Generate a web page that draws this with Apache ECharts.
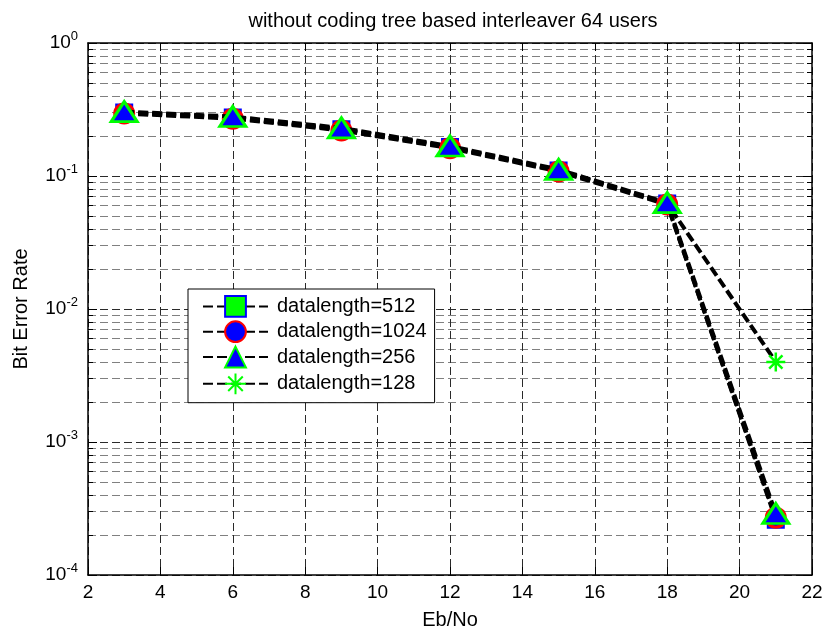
<!DOCTYPE html>
<html>
<head>
<meta charset="utf-8">
<script src="https://cdn.jsdelivr.net/npm/echarts@6/dist/echarts.min.js"></script>
<style>
  html, body { margin: 0; padding: 0; background: #fff; }
  #chart { width: 825px; height: 630px; }
</style>
</head>
<body>
<div id="chart"></div>
<script>
var ebno = [3, 6, 9, 12, 15, 18, 21];
var ber512 = [0.300, 0.275, 0.225, 0.165, 0.110, 0.062, 0.00026];
var ber1024 = [0.295, 0.270, 0.220, 0.162, 0.108, 0.061, 0.00027];
var ber256 = [0.305, 0.280, 0.230, 0.168, 0.112, 0.063, 0.00029];
var ber128 = [0.300, 0.275, 0.225, 0.165, 0.110, 0.062, 0.0040];
var xTicks = [2, 4, 6, 8, 10, 12, 14, 16, 18, 20, 22];

var font = 'Liberation Sans, Arial, sans-serif';
var chart = echarts.init(document.getElementById('chart'));

function pairs(ys) {
  return ebno.map(function (x, i) { return [x, ys[i]]; });
}

// dashed black curve, same for all four series
var lineDash = { color: '#000', width: 4, type: [10, 4] };
var starPath = 'path://M0,5L10,5M5,0L5,10M1.5,1.5L8.5,8.5M8.5,1.5L1.5,8.5';

function yLabel(v) {
  var e = Math.round(Math.log10(v));
  return '{b|10}{s|' + e + '}';
}

var yRich = {
  b: { fontSize: 19, fontFamily: font, color: '#000' },
  s: { fontSize: 13, fontFamily: font, color: '#000', padding: [0, 0, 14, 0] }
};

var tickStyle = { color: '#000', width: 1 };

var option = {
  animation: false,
  backgroundColor: '#fff',
  title: {
    text: 'without coding tree based interleaver 64 users',
    left: 448,
    top: 6,
    textAlign: 'center',
    textStyle: { fontSize: 20, fontWeight: 'normal', color: '#000', fontFamily: font }
  },
  grid: { left: 88, right: 13, top: 43, bottom: 55, outerBoundsMode: 'none', containLabel: false },
  legend: {
    left: 188,
    top: 289,
    orient: 'vertical',
    backgroundColor: '#fff',
    borderColor: '#000',
    borderWidth: 1,
    borderRadius: 0,
    padding: [6, 8, 6, 14],
    itemGap: 2.5,
    itemWidth: 65,
    itemHeight: 26,
    textStyle: { fontSize: 20, fontFamily: font, color: '#000', padding: [0, 0, 0, 4] },
    data: ['datalength=512', 'datalength=1024', 'datalength=256', 'datalength=128']
  },
  xAxis: [{
    type: 'value',
    min: 2, max: 22, interval: 2,
    name: 'Eb/No',
    nameLocation: 'middle',
    nameGap: 35,
    nameTextStyle: { fontSize: 20, fontFamily: font, color: '#000' },
    axisLine: { lineStyle: { color: '#000', width: 1.5 } },
    axisTick: { inside: true, length: 8, lineStyle: tickStyle },
    axisLabel: { fontSize: 19, fontFamily: font, color: '#000', margin: 8,
      formatter: function (v) { return xTicks.indexOf(v) >= 0 ? String(v) : ''; } },
    splitLine: { show: true, lineStyle: { color: '#2a2a2a', type: [8, 4], width: 1 } }
  }, {
    type: 'value',
    position: 'top',
    min: 2, max: 22, interval: 2,
    axisLine: { show: true, lineStyle: { color: '#000', width: 1.5 } },
    axisTick: { inside: true, length: 8, lineStyle: tickStyle },
    axisLabel: { show: false },
    splitLine: { show: false }
  }],
  yAxis: [{
    type: 'log',
    logBase: 10,
    min: 1e-4, max: 1,
    name: 'Bit Error Rate',
    nameLocation: 'middle',
    nameGap: 57,
    nameTextStyle: { fontSize: 20, fontFamily: font, color: '#000' },
    axisLine: { show: true, lineStyle: { color: '#000', width: 1.5 } },
    axisTick: { inside: true, length: 9, lineStyle: tickStyle },
    minorTick: { show: true, splitNumber: 9, length: 5, lineStyle: tickStyle },
    axisLabel: { formatter: yLabel, rich: yRich, margin: 10 },
    splitLine: { show: true, lineStyle: { color: '#2a2a2a', type: [8, 4], width: 1 } },
    minorSplitLine: { show: true, lineStyle: { color: '#808080', type: [8, 4], width: 1 } }
  }, {
    type: 'log',
    logBase: 10,
    min: 1e-4, max: 1,
    position: 'right',
    axisLine: { show: true, lineStyle: { color: '#000', width: 1.5 } },
    axisTick: { inside: true, length: 9, lineStyle: tickStyle },
    minorTick: { show: true, splitNumber: 9, length: 5, lineStyle: tickStyle },
    axisLabel: { show: false },
    splitLine: { show: false }
  }],
  series: [{
    name: 'datalength=512',
    type: 'line',
    data: pairs(ber512),
    symbol: 'rect',
    symbolSize: 16,
    lineStyle: lineDash,
    itemStyle: { color: '#00ff00', borderColor: '#0000ff', borderWidth: 2 },
    z: 2
  }, {
    name: 'datalength=1024',
    type: 'line',
    data: pairs(ber1024),
    symbol: 'circle',
    symbolSize: 19,
    lineStyle: lineDash,
    itemStyle: { color: '#0000ff', borderColor: '#ff0000', borderWidth: 3 },
    z: 3
  }, {
    name: 'datalength=256',
    type: 'line',
    data: pairs(ber256),
    symbol: 'triangle',
    symbolSize: [26, 20],
    lineStyle: lineDash,
    itemStyle: { color: '#0000ff', borderColor: '#00ff00', borderWidth: 3 },
    z: 4
  }, {
    name: 'datalength=128',
    type: 'line',
    data: pairs(ber128),
    symbol: starPath,
    symbolSize: 19,
    lineStyle: lineDash,
    itemStyle: { color: 'none', borderColor: '#00ff00', borderWidth: 2.5 },
    z: 1
  }]
};

chart.setOption(option);
</script>
</body>
</html>
